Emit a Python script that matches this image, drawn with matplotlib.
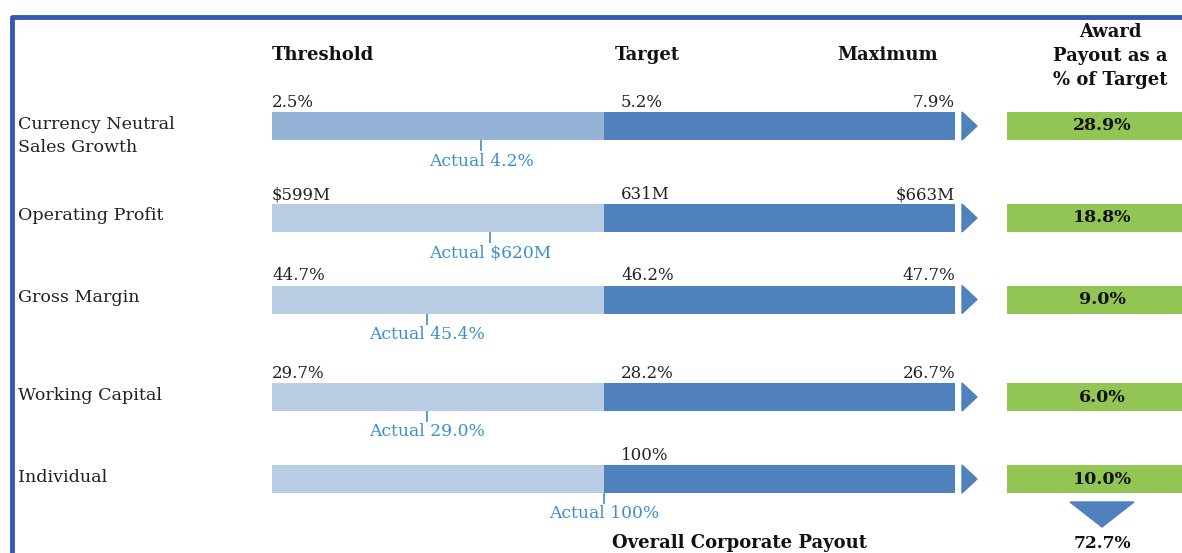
import numpy as np
import matplotlib.pyplot as plt
from matplotlib.patches import Polygon

plt.rcParams['font.family'] = ['DejaVu Serif']

# data
categories = ['Currency Neutral\nSales Growth', 'Operating Profit', 'Gross Margin',
              'Working Capital', 'Individual']
threshold_vals = [2.5, 599, 44.7, 29.7, None]
target_vals = [5.2, 631, 46.2, 28.2, 100]
max_vals = [7.9, 663, 47.7, 26.7, None]
actual_vals = [4.2, 620, 45.4, 29.0, 100]
threshold_labels = ['2.5%', '$599M', '44.7%', '29.7%', '']
target_labels = ['5.2%', '631M', '46.2%', '28.2%', '100%']
max_labels = ['7.9%', '$663M', '47.7%', '26.7%', '']
actual_labels = ['Actual 4.2%', 'Actual $620M', 'Actual 45.4%', 'Actual 29.0%', 'Actual 100%']
payout = [28.9, 18.8, 9.0, 6.0, 10.0]
overall_payout = 72.7

# layout (pixel space)
W, H = 1182, 553
x_thr, x_tgt, x_max = 272, 604, 955
row_y = [126, 218, 299.5, 397, 479]
label_y = [136, 216, 298, 395, 477]
bar_h = 28
light_cols = ['#95b3d7', '#b9cde5', '#b9cde5', '#b9cde5', '#b9cde5']
dark_col = '#4f81bd'
green = '#92c553'
actual_col = '#3a8fd0'

fig = plt.figure(figsize=(W / 100, H / 100), dpi=100)
ax = fig.add_axes([0, 0, 1, 1])
ax.set_xlim(0, W)
ax.set_ylim(H, 0)
ax.axis('off')

# frame
ax.plot([12, 12, W], [H, 17, 17], color='#3558b3', lw=3.5, solid_capstyle='butt')

# headers
hdr = dict(fontsize=13, fontweight='bold', va='center', color='#111111')
ax.text(x_thr, 55, 'Threshold', ha='left', **hdr)
ax.text(647, 55, 'Target', ha='center', **hdr)
ax.text(888, 55, 'Maximum', ha='center', **hdr)
ax.text(1110, 56, 'Award\nPayout as a\n% of Target', ha='center', linespacing=1.4, **hdr)

for i, cat in enumerate(categories):
    y = row_y[i]
    ax.text(18, label_y[i], cat, ha='left', va='center', fontsize=12.6, color='#222222',
            linespacing=1.4)
    # bars
    ax.barh(y, x_tgt - x_thr, left=x_thr, height=bar_h, color=light_cols[i])
    ax.barh(y, x_max - x_tgt, left=x_tgt, height=bar_h, color=dark_col)
    ax.add_patch(Polygon([[962, y - bar_h / 2], [977, y], [962, y + bar_h / 2]],
                         closed=True, color=dark_col))
    # value labels
    top = y - bar_h / 2 - 1
    ax.text(x_thr, top, threshold_labels[i], ha='left', va='bottom', fontsize=12, color='#222222')
    ax.text(621, top, target_labels[i], ha='left', va='bottom', fontsize=12, color='#222222')
    ax.text(x_max, top, max_labels[i], ha='right', va='bottom', fontsize=12, color='#222222')
    # actual marker
    if threshold_vals[i] is None:
        xa = x_tgt
    else:
        frac = (actual_vals[i] - threshold_vals[i]) / (target_vals[i] - threshold_vals[i])
        xa = x_thr + frac * (x_tgt - x_thr)
    ax.vlines(xa, y + bar_h / 2, y + bar_h / 2 + 11, color=actual_col, lw=1.2)
    ax.text(xa, y + bar_h / 2 + 21, actual_labels[i], ha='center', va='center',
            fontsize=12.3, color=actual_col)
    # payout box
    ax.barh(y, 1182 - 1007, left=1007, height=bar_h, color=green)
    ax.text(1102, y, f'{payout[i]:.1f}%', ha='center', va='center', fontsize=12.5,
            fontweight='bold', color='#111111')

# overall
ax.add_patch(Polygon([[1070, 502], [1134, 502], [1102, 527]], closed=True, color=dark_col))
ax.text(1102, 543, f'{overall_payout:.1f}%', ha='center', va='center', fontsize=12.3,
        fontweight='bold', color='#111111')
ax.text(739, 543, 'Overall Corporate Payout', ha='center', va='center', fontsize=13,
        fontweight='bold', color='#111111')

fig.savefig('out.png', dpi=100)
